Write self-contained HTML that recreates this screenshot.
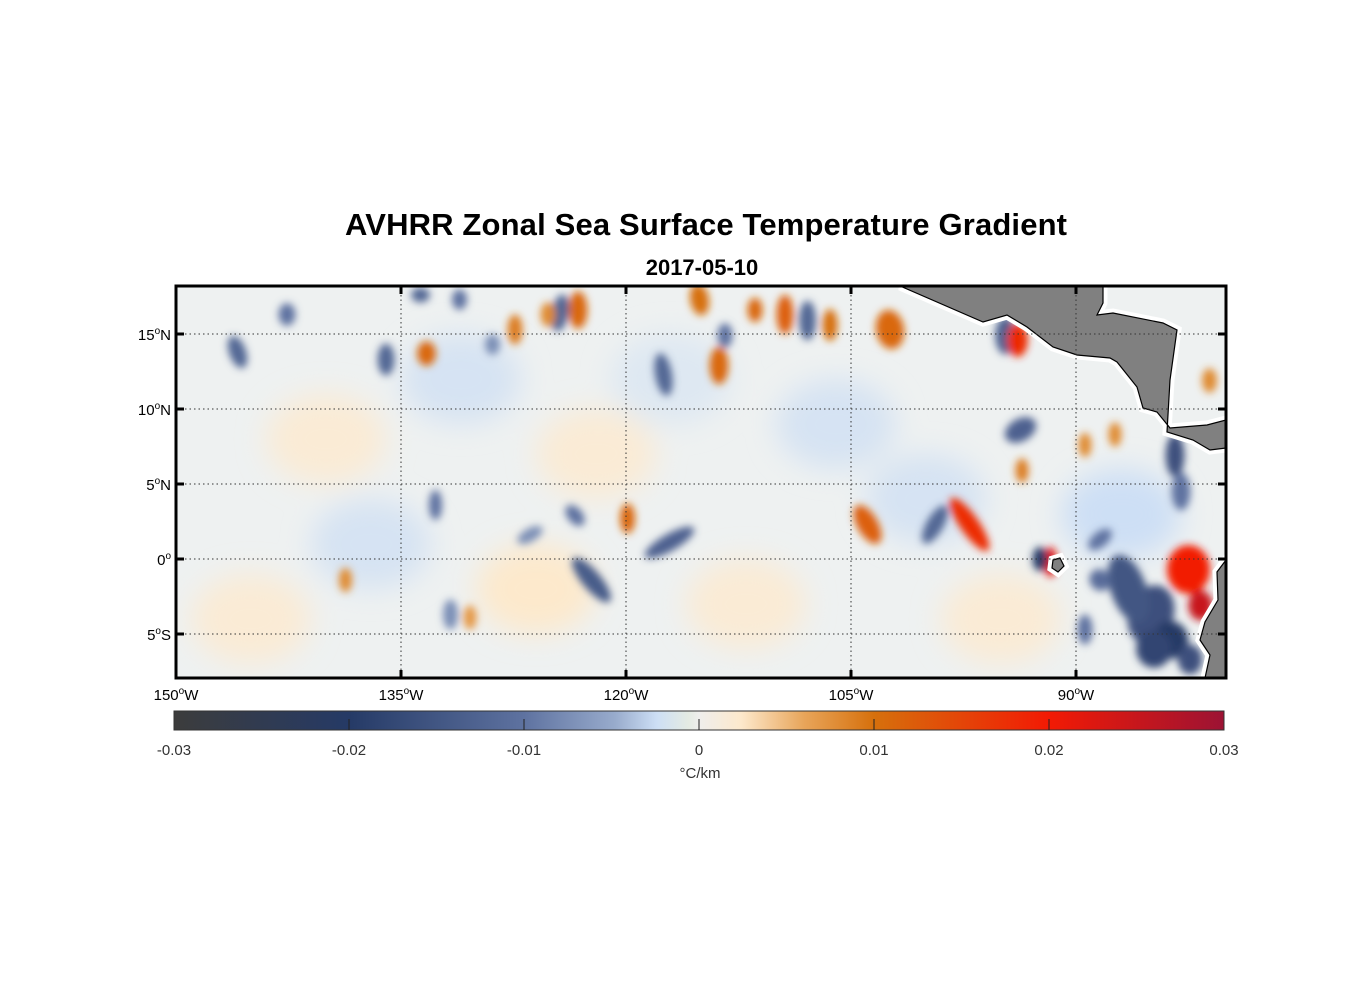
<!DOCTYPE html>
<html><head><meta charset="utf-8"><style>
body{margin:0;background:#fff;font-family:"Liberation Sans",Arial,sans-serif}
svg text{font-family:"Liberation Sans",Arial,sans-serif}
</style></head><body>
<svg id="chart" width="1356" height="1000" viewBox="0 0 1356 1000">
<defs>
<clipPath id="mapclip"><rect x="176" y="286" width="1050" height="392"/></clipPath>
<filter id="blur" x="-50%" y="-50%" width="200%" height="200%"><feGaussianBlur stdDeviation="4"/></filter>
<filter id="blur2" x="-50%" y="-50%" width="200%" height="200%"><feGaussianBlur stdDeviation="14"/></filter>
<linearGradient id="cbgrad" x1="0" x2="1" y1="0" y2="0">
<stop offset="0" stop-color="#3c3c3c"/>
<stop offset="0.1667" stop-color="#253a66"/>
<stop offset="0.3333" stop-color="#5e72a0"/>
<stop offset="0.42" stop-color="#98abcc"/>
<stop offset="0.46" stop-color="#cddff5"/>
<stop offset="0.49" stop-color="#e4ebe3"/>
<stop offset="0.5" stop-color="#efeeec"/>
<stop offset="0.54" stop-color="#fde9cc"/>
<stop offset="0.6" stop-color="#e8a55a"/>
<stop offset="0.6667" stop-color="#d6700c"/>
<stop offset="0.8333" stop-color="#f21a04"/>
<stop offset="1" stop-color="#9c1334"/>
</linearGradient>
</defs>
<text x="706" y="235" text-anchor="middle" font-size="31" font-weight="bold" textLength="722">AVHRR Zonal Sea Surface Temperature Gradient</text>
<text x="702" y="275" text-anchor="middle" font-size="22" font-weight="bold">2017-05-10</text>
<rect x="176" y="286" width="1050" height="392" fill="#eef1f1"/>
<g id="bg" clip-path="url(#mapclip)" filter="url(#blur2)"></g>
<g id="blobs" clip-path="url(#mapclip)" filter="url(#blur)"></g>
<g id="land" clip-path="url(#mapclip)"></g>
<g id="grid"></g>
<rect x="176" y="286" width="1050" height="392" fill="none" stroke="#000" stroke-width="3"/>
<g id="axes"></g>
<rect x="174" y="711" width="1050" height="19" fill="url(#cbgrad)" stroke="#333" stroke-width="1"/>
<g id="cbticks"></g>
<text x="700" y="778" text-anchor="middle" font-size="15" fill="#333">°C/km</text>
</svg>
<script>
const lonTicks=[-150,-135,-120,-105,-90];
const latTicks=[15,10,5,0,-5];
const cbTicks=[-0.03,-0.02,-0.01,0,0.01,0.02,0.03];
const cbLabels=["-0.03","-0.02","-0.01","0","0.01","0.02","0.03"];
const blobLon=[-145.9,-142.6,-136.0,-133.3,-127.4,-128.9,-124.4,-123.2,-125.2,-117.5,-115.1,-113.8,-111.4,-109.4,-107.9,-106.4,-102.4,-94.7,-93.9,-93.7,-93.6,-83.4,-103.9,-97.1,-99.4,-92.4,-91.7,-88.4,-82.5,-81.7,-85.0,-83.7,-82.4,-89.4,-88.4,-117.1,-119.9,-122.3,-123.4,-126.4,-132.7,-138.7,-131.7,-130.4,-81.1,-87.4,-89.4,-113.4,-131.1,-133.7,-86.5,-84.8,-83.0];
const blobLat=[13.8,16.3,13.3,13.7,15.3,14.3,16.4,16.6,16.3,12.3,17.3,12.9,16.6,16.3,15.9,15.6,15.3,14.9,14.6,8.6,5.9,6.9,2.3,2.3,2.3,0,-0.2,1.3,-0.7,-3.1,-3.7,-5.4,-6.7,-4.7,-1.4,1.1,2.7,-1.4,2.9,1.6,3.6,-1.4,-3.7,-3.9,11.9,8.3,7.6,14.9,17.3,17.6,-2.0,-6.0,4.5];
const blobVal=[-0.012,-0.01,-0.012,0.011,0.009,-0.008,-0.012,0.011,0.008,-0.012,0.01,0.011,0.011,0.012,-0.012,0.01,0.011,-0.013,0.018,-0.013,0.009,-0.016,0.012,0.018,-0.012,-0.02,0.022,-0.01,0.02,0.025,-0.016,-0.02,-0.016,-0.01,-0.011,-0.013,0.011,-0.014,-0.01,-0.008,-0.01,0.008,-0.008,0.007,0.008,0.008,0.008,-0.01,-0.01,-0.012,-0.015,-0.018,-0.01];
const blobW=[0.9,0.9,0.9,1.0,0.8,0.8,0.9,1.0,0.8,0.9,1.0,1.0,0.8,0.9,0.9,0.8,1.5,1.1,1.1,1.8,0.7,1.0,1.1,1.0,0.9,0.8,0.7,1.5,2.3,1.3,2.4,1.9,1.3,0.8,1.1,0.9,0.8,1.0,0.8,1.5,0.7,0.7,0.8,0.7,0.8,0.7,0.7,0.8,0.8,1.0,1.9,1.9,1.0];
const blobH=[1.8,1.2,1.7,1.3,1.6,1.1,2.0,2.0,1.3,2.3,1.7,2.0,1.3,2.1,2.1,1.7,2.1,2.0,1.8,1.2,1.3,2.3,2.3,3.4,2.3,1.3,1.6,0.8,2.6,1.6,3.2,2.0,1.6,1.6,1.2,3.0,1.6,3.0,1.3,0.7,1.6,1.3,1.6,1.3,1.3,1.3,1.3,1.3,1.1,0.8,3.8,2.0,2.0];
const blobRot=[-20,0,0,0,0,0,10,0,0,-10,-10,0,0,0,0,0,-10,0,0,-30,0,0,-30,-35,30,0,0,-40,0,0,20,0,0,0,-40,60,0,-40,-40,-30,0,0,0,0,0,0,0,0,0,0,-20,0,0];
const bgLon=[-140,-126,-112,-100,-137,-122,-106,-95,-145,-131,-117,-87];
const bgLat=[8,-2,-3,4,1,7,9,-4,-4,12,12,3];
const bgVal=[0.0015,0.002,0.0015,-0.0015,-0.0015,0.0015,-0.0015,0.0015,0.0015,-0.0015,-0.001,-0.002];
const landX=[900,983,1007,1027,1053,1077,1110,1117,1137,1143,1157,1170,1207,1226,1226,1210,1193,1167,1170,1177,1163,1113,1097,1103,1103];
const landY=[286,322,315,327,347,355,358,362,387,408,412,428,425,420,448,450,440,432,380,330,323,313,315,303,286];
const saX=[1226,1217,1218,1205,1200,1210,1205,1226];
const saY=[560,572,600,622,640,655,678,678];
const NS='http://www.w3.org/2000/svg';
const X=lon=>176+(lon+150)*15, Y=lat=>559-lat*15;
const cmStops=[[-0.03,[60,60,60]],[-0.02,[37,58,102]],[-0.01,[94,114,160]],[-0.006,[152,171,204]],[-0.002,[205,223,245]],[0,[239,240,238]],[0.002,[253,233,204]],[0.006,[232,165,90]],[0.01,[214,112,12]],[0.02,[242,26,4]],[0.03,[156,19,52]]];
function cmap(v){v=Math.max(-0.03,Math.min(0.03,v));for(let i=0;i<cmStops.length-1;i++){const[a,ca]=cmStops[i],[b,cb]=cmStops[i+1];if(v<=b){const t=(v-a)/(b-a);return 'rgb('+ca.map((c,k)=>Math.round(c+(cb[k]-c)*t)).join(',')+')';}}return 'rgb(156,19,52)';}
const bg=document.getElementById('bg');
bgVal.forEach((v,i)=>{
 const e=document.createElementNS(NS,'ellipse');
 e.setAttribute('cx',X(bgLon[i]));e.setAttribute('cy',Y(bgLat[i]));
 e.setAttribute('rx',60);e.setAttribute('ry',45);
 e.setAttribute('fill',cmap(v));
 
 
 bg.appendChild(e);
});
const g=document.getElementById('blobs');
const order=blobVal.map((v,i)=>i).sort((a,b)=>blobW[b]*blobH[b]-blobW[a]*blobH[a]);
order.forEach(i=>{
 const e=document.createElementNS(NS,'ellipse');
 const cx=X(blobLon[i]),cy=Y(blobLat[i]);
 e.setAttribute('cx',cx);e.setAttribute('cy',cy);
 e.setAttribute('rx',blobW[i]*15/1.6);e.setAttribute('ry',blobH[i]*15/1.6);
 e.setAttribute('transform','rotate('+blobRot[i]+' '+cx+' '+cy+')');
 e.setAttribute('fill',cmap(blobVal[i]));
 
 
 g.appendChild(e);
});
const land=document.getElementById('land');
function poly(xs,ys,name){
 const pts=xs.map((x,i)=>x+','+ys[i]).join(' ');
 const halo=document.createElementNS(NS,'polygon');
 halo.setAttribute('points',pts);halo.setAttribute('fill','#fff');halo.setAttribute('stroke','#fff');halo.setAttribute('stroke-width','9');
 
 
 land.appendChild(halo);
 const p=document.createElementNS(NS,'polygon');
 p.setAttribute('points',pts);p.setAttribute('fill','#808080');p.setAttribute('stroke','#000');p.setAttribute('stroke-width','1.2');
 
 
 land.appendChild(p);
}
poly(landX,landY,'central-america');
poly(saX,saY,'south-america');
poly([1053,1060,1064,1058,1052],[560,558,566,572,568],'galapagos');
const grid=document.getElementById('grid'),axes=document.getElementById('axes');
lonTicks.forEach((lon,i)=>{
 const x=X(lon);
 if(i>0){const l=document.createElementNS(NS,'line');l.setAttribute('x1',x);l.setAttribute('x2',x);l.setAttribute('y1',286);l.setAttribute('y2',678);l.setAttribute('stroke','#333');l.setAttribute('stroke-width','1');l.setAttribute('stroke-dasharray','1.5,3');
 
 
 grid.appendChild(l);}
 [[286,294],[670,678]].forEach(([a,b])=>{const t=document.createElementNS(NS,'line');t.setAttribute('x1',x);t.setAttribute('x2',x);t.setAttribute('y1',a);t.setAttribute('y2',b);t.setAttribute('stroke','#000');t.setAttribute('stroke-width','3');
 
 
 axes.appendChild(t);});
 const tx=document.createElementNS(NS,'text');tx.setAttribute('x',x);tx.setAttribute('y',700);tx.setAttribute('text-anchor','middle');tx.setAttribute('font-size','15');
 tx.innerHTML=Math.abs(lon)+'<tspan font-size="10" dy="-6">o</tspan><tspan dy="6">W</tspan>';
 
 
 axes.appendChild(tx);
});
latTicks.forEach(lat=>{
 const y=Y(lat);
 const l=document.createElementNS(NS,'line');l.setAttribute('x1',176);l.setAttribute('x2',1226);l.setAttribute('y1',y);l.setAttribute('y2',y);l.setAttribute('stroke','#333');l.setAttribute('stroke-width','1');l.setAttribute('stroke-dasharray','1.5,3');
 
 
 grid.appendChild(l);
 [[176,184],[1218,1226]].forEach(([a,b])=>{const t=document.createElementNS(NS,'line');t.setAttribute('x1',a);t.setAttribute('x2',b);t.setAttribute('y1',y);t.setAttribute('y2',y);t.setAttribute('stroke','#000');t.setAttribute('stroke-width','3');
 
 
 axes.appendChild(t);});
 const tx=document.createElementNS(NS,'text');tx.setAttribute('x',171);tx.setAttribute('y',y+6);tx.setAttribute('text-anchor','end');tx.setAttribute('font-size','15');
 const hemi=lat>0?'N':(lat<0?'S':'');
 tx.innerHTML=Math.abs(lat)+'<tspan font-size="10" dy="-6">o</tspan><tspan dy="6">'+hemi+'</tspan>';
 
 
 axes.appendChild(tx);
});
const cbt=document.getElementById('cbticks');
cbTicks.forEach((v,i)=>{
 const x=174+(v+0.03)/0.06*1050;
 if(i>0&&i<cbTicks.length-1){const t=document.createElementNS(NS,'line');t.setAttribute('x1',x);t.setAttribute('x2',x);t.setAttribute('y1',719);t.setAttribute('y2',730);t.setAttribute('stroke','#222');t.setAttribute('stroke-width','1');
 
 
 cbt.appendChild(t);}
 const tx=document.createElementNS(NS,'text');tx.setAttribute('x',x);tx.setAttribute('y',755);tx.setAttribute('text-anchor','middle');tx.setAttribute('font-size','15');tx.setAttribute('fill','#333');
 tx.textContent=cbLabels[i];
 
 
 cbt.appendChild(tx);
});
</script>
</body></html>
